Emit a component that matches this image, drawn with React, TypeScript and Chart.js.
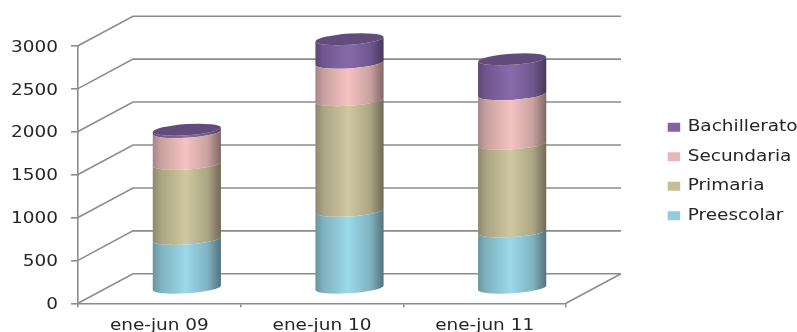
import React, { useEffect, useRef } from "react";
import { Chart, registerables } from "chart.js";

Chart.register(...registerables);

// Enrolment per period and school level
const categories = ["ene-jun 09", "ene-jun 10", "ene-jun 11"];
const preescolar = [578, 905, 664];
const primaria = [874, 1288, 1022];
const secundaria = [370, 436, 576];
const bachillerato = [28, 275, 408];

const seriesNames = ["Preescolar", "Primaria", "Secundaria", "Bachillerato"];
const seriesColors = ["#92CDDC", "#C4BD97", "#E6B8B7", "#8064A2"];
const capColor = "#624C7C";
const lineColor = "#8C8C8C";
const textColor = "#262626";

// Oblique projection of the 3D box: how far the back wall sits from the front plane
const DEPTH_X = 55;
const DEPTH_Y = -29.5;
const TILT = (-3.8 * Math.PI) / 180;
const ELLIPSE_RY = 5.6;
const TEXT_STRETCH = 1.23;

function shade(hex: string, f: number): string {
  const n = parseInt(hex.slice(1), 16);
  const c = [(n >> 16) & 255, (n >> 8) & 255, n & 255].map((v) =>
    Math.min(255, Math.round(v * f))
  );
  return `rgb(${c[0]},${c[1]},${c[2]})`;
}

// Walls and floor of the box, drawn behind the columns
const wallsPlugin = {
  id: "walls",
  beforeDatasetsDraw(chart: any) {
    const { ctx, scales } = chart;
    const { x, y } = scales;
    ctx.save();
    ctx.strokeStyle = lineColor;
    ctx.lineWidth = 1.6;
    ctx.beginPath();
    for (const t of y.ticks) {
      const py = y.getPixelForValue(t.value);
      ctx.moveTo(x.left, py);
      ctx.lineTo(x.left + DEPTH_X, py + DEPTH_Y);
      ctx.lineTo(x.right + DEPTH_X, py + DEPTH_Y);
    }
    ctx.moveTo(x.right, y.bottom);
    ctx.lineTo(x.right + DEPTH_X, y.bottom + DEPTH_Y);
    ctx.stroke();
    ctx.restore();
  },
  // Each stacked bar becomes a shaded cylinder segment
  beforeDatasetDraw(chart: any, args: any) {
    const { ctx } = chart;
    const color = seriesColors[args.index];
    const isTop = args.index === chart.data.datasets.length - 1;
    for (const el of args.meta.data) {
      const cx = el.x + DEPTH_X / 2;
      const rx = el.width / 2;
      const yTop = el.y + DEPTH_Y / 2;
      const yBase = el.base + DEPTH_Y / 2;
      const g = ctx.createLinearGradient(cx - rx, 0, cx + rx, 0);
      g.addColorStop(0, shade(color, 0.72));
      g.addColorStop(0.12, shade(color, 0.87));
      g.addColorStop(0.48, shade(color, 1.06));
      g.addColorStop(0.8, shade(color, 0.88));
      g.addColorStop(1, shade(color, 0.56));
      ctx.save();
      ctx.fillStyle = g;
      ctx.beginPath();
      ctx.ellipse(cx, yTop, rx, ELLIPSE_RY, TILT, Math.PI, 0, true);
      ctx.ellipse(cx, yBase, rx, ELLIPSE_RY, TILT, 0, Math.PI, false);
      ctx.closePath();
      ctx.fill();
      if (isTop) {
        ctx.fillStyle = capColor;
        ctx.beginPath();
        ctx.ellipse(cx, yTop, rx, ELLIPSE_RY, TILT, 0, Math.PI * 2);
        ctx.fill();
      }
      ctx.restore();
    }
    return false;
  },
  // Place the legend beside the box, clear of the plot
  afterLayout(chart: any) {
    const legend = chart.legend;
    legend.left = 653.2;
    legend.right = 797;
    legend.top = 105.2;
    legend.bottom = 240;
  },
};

export default function App() {
  const ref = useRef<HTMLCanvasElement>(null);

  useEffect(() => {
    const canvas = ref.current!;
    const ctx = canvas.getContext("2d")!;
    // All labels in this chart are set in a horizontally widened face
    const plainFillText = ctx.fillText;
    ctx.fillText = function (text: string, x: number, y: number) {
      ctx.save();
      ctx.translate(x, y);
      ctx.scale(TEXT_STRETCH, 1);
      plainFillText.call(ctx, text, 0, 0);
      ctx.restore();
    };

    const values = [preescolar, primaria, secundaria, bachillerato];
    const chart = new Chart(ctx, {
      type: "bar",
      data: {
        labels: categories,
        datasets: seriesNames.map((label, i) => ({
          label,
          data: values[i],
          backgroundColor: seriesColors[i],
          barPercentage: 0.42,
          categoryPercentage: 1,
        })),
      },
      options: {
        animation: false,
        responsive: false,
        layout: { padding: { top: 45.7, right: 231, left: 0, bottom: 0 } },
        font: { family: "'DejaVu Sans'", size: 15 },
        plugins: {
          tooltip: { enabled: false },
          legend: {
            position: "chartArea" as any,
            align: "start",
            reverse: true,
            labels: {
              boxWidth: 12.5,
              boxHeight: 9,
              padding: 14.5,
              color: textColor,
              font: { family: "'DejaVu Sans'", size: 15 },
            },
          },
        },
        scales: {
          x: {
            stacked: true,
            afterFit(scale: any) {
              scale.height = 28.7;
            },
            grid: {
              drawOnChartArea: false,
              color: lineColor,
              lineWidth: 1.6,
              tickLength: 4,
            },
            border: { color: lineColor, width: 1.6 },
            ticks: {
              color: textColor,
              padding: 10,
              maxRotation: 0,
              autoSkip: false,
              font: { family: "'DejaVu Sans'", size: 15 },
            },
          },
          y: {
            stacked: true,
            min: 0,
            max: 3000,
            afterFit(scale: any) {
              scale.width = 78;
            },
            grid: {
              drawOnChartArea: false,
              color: lineColor,
              lineWidth: 1.6,
              tickLength: 7,
            },
            border: { color: lineColor, width: 1.6 },
            ticks: {
              stepSize: 500,
              color: textColor,
              padding: 13,
              labelOffset: 2,
              callback: (v: any) => String(v),
              font: { family: "'DejaVu Sans'", size: 15 },
            },
          },
        },
      },
      plugins: [wallsPlugin],
    } as any);

    return () => {
      chart.destroy();
      ctx.fillText = plainFillText;
    };
  }, []);

  return (
    <canvas
      ref={ref}
      width={797}
      height={332}
      style={{ position: "absolute", left: 0, top: 0, width: 797, height: 332 }}
    />
  );
}
